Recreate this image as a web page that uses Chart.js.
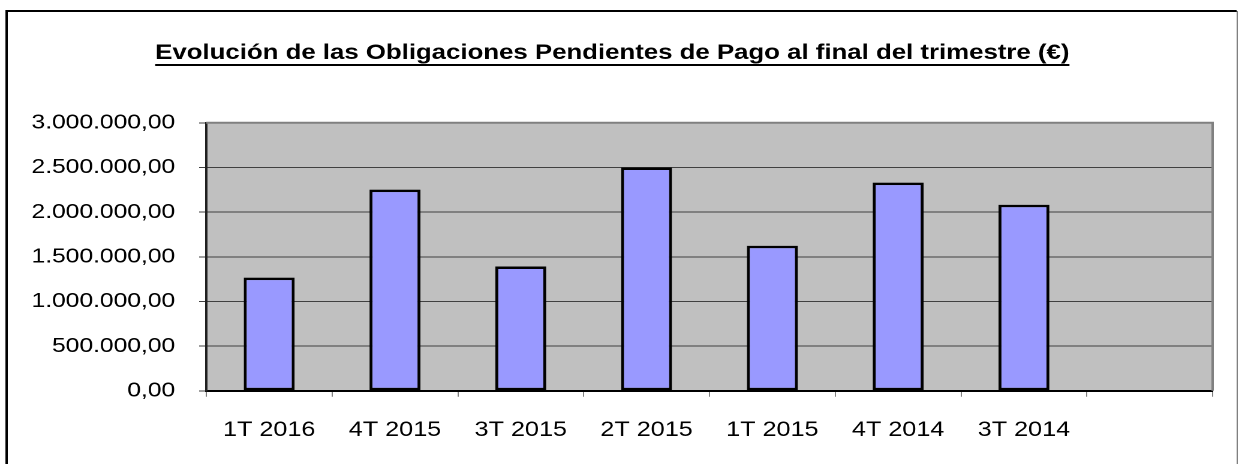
<!DOCTYPE html>
<html lang="es">
<head>
<meta charset="utf-8">
<title>Obligaciones Pendientes de Pago</title>
<script src="https://cdn.jsdelivr.net/npm/chart.js@4/dist/chart.umd.min.js"></script>
<style>
    html, body { margin: 0; padding: 0; background: #fff; overflow: hidden; }
    /* the original picture is stretched sideways, so the chart is drawn narrow and widened */
    #wrap { width: 1033px; height: 464px; transform: scaleX(1.19942); transform-origin: 0 0; }
</style>
</head>
<body>
<div id="wrap"><canvas id="chart"></canvas></div>
<script>
const TITLE = 'Evolución de las Obligaciones Pendientes de Pago al final del trimestre (€)';
const categories = ['1T 2016', '4T 2015', '3T 2015', '2T 2015', '1T 2015', '4T 2014', '3T 2014', ''];
const pendientes = [1267000, 2252000, 1391000, 2500000, 1624000, 2331000, 2083000, null];
const yMin = 0, yMax = 3000000, yStep = 500000;

const FONT = "'Liberation Sans', Arial, sans-serif";

/* 3.000.000,00 */
function fmtEs(v) {
    const parts = Number(v).toFixed(2).split('.');
    return parts[0].replace(/\B(?=(\d{3})+(?!\d))/g, '.') + ',' + parts[1];
}

/* === FRAME + PLOT BACKGROUND === */
const framePlugin = {
    id: 'frame',
    beforeDraw(chart) {
        const { ctx, width, height, chartArea: a } = chart;
        ctx.save();
        ctx.fillStyle = '#fff';
        ctx.fillRect(0, 0, width, height);
        ctx.strokeStyle = '#000';
        ctx.lineWidth = 2;
        ctx.beginPath();
        ctx.moveTo(5.5, height + 5);
        ctx.lineTo(5.5, 11);
        ctx.lineTo(1031, 11);
        ctx.stroke();
        ctx.strokeStyle = '#808080';
        ctx.lineWidth = 1;
        ctx.beginPath();
        ctx.moveTo(1031.5, 11);
        ctx.lineTo(1031.5, height + 5);
        ctx.stroke();
        ctx.fillStyle = '#C0C0C0';
        ctx.fillRect(a.left, a.top, a.right - a.left, a.bottom - a.top);
        ctx.restore();
    },
    beforeDatasetsDraw(chart) {
        const { ctx, chartArea: a } = chart;
        ctx.save();
        ctx.strokeStyle = '#808080';
        ctx.lineWidth = 2;
        ctx.beginPath();
        ctx.moveTo(a.left, a.top);
        ctx.lineTo(a.right, a.top);
        ctx.lineTo(a.right, a.bottom);
        ctx.stroke();
        ctx.restore();
    }
};

/* === TITLE UNDERLINE === */
const underlinePlugin = {
    id: 'underline',
    afterDraw(chart) {
        const t = chart.titleBlock;
        if (!t) return;
        const { ctx } = chart;
        ctx.save();
        ctx.font = 'bold 21.5px ' + FONT;
        const w = ctx.measureText(TITLE).width;
        const cx = (t.left + t.right) / 2;
        ctx.fillStyle = '#000';
        ctx.fillRect(cx - w / 2, 64, w, 2);
        ctx.restore();
    }
};

new Chart(document.getElementById('chart'), {
    type: 'bar',
    data: {
        labels: categories,
        datasets: [{
            data: pendientes,
            backgroundColor: '#9999FF',
            borderColor: '#000',
            borderWidth: 2.5,
            borderSkipped: false,
            barPercentage: 0.405,
            categoryPercentage: 1
        }]
    },
    options: {
        responsive: true,
        maintainAspectRatio: false,
        animation: false,
        devicePixelRatio: 2,
        layout: { padding: { left: 10, right: 22, top: 0, bottom: 0 } },
        plugins: {
            legend: { display: false },
            tooltip: { enabled: false },
            title: {
                display: true,
                text: TITLE,
                color: '#000',
                font: { family: FONT, size: 21.5, weight: 'bold', lineHeight: 1.2 },
                padding: { top: 40, bottom: 57 }
            }
        },
        scales: {
            x: {
                offset: true,
                grid: { offset: true, drawOnChartArea: false, drawTicks: true, tickLength: 6, color: '#808080' },
                border: { color: '#000', width: 2 },
                ticks: {
                    color: '#000',
                    font: { family: FONT, size: 21 },
                    padding: 21,
                    autoSkip: false,
                    maxRotation: 0
                }
            },
            y: {
                min: yMin,
                max: yMax,
                afterFit(scale) { scale.width = 162; },
                grid: { color: '#404040', lineWidth: 1, tickLength: 6 },
                border: { color: '#202020', width: 2 },
                ticks: {
                    stepSize: yStep,
                    color: '#000',
                    padding: 20,
                    font: { family: FONT, size: 20.5 },
                    callback: v => fmtEs(v)
                }
            }
        }
    },
    plugins: [framePlugin, underlinePlugin]
});
</script>
</body>
</html>
